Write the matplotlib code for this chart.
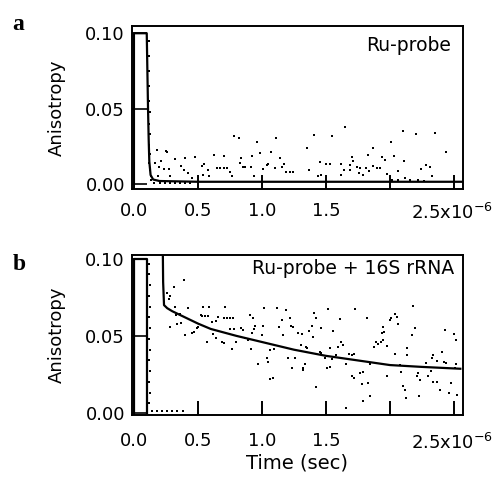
import matplotlib
matplotlib.use('Agg')
import matplotlib.pyplot as plt

plt.rcParams['font.family'] = ['DejaVu Sans']

# time in units of 1e-6 s
a_fit_t = [0.0, 0.0, 0.10, 0.105, 0.11, 0.115, 0.12, 0.13, 0.15, 0.2, 0.5, 1.0, 2.0, 2.57]
a_fit_v = [0.0, 0.10, 0.10, 0.075, 0.05, 0.03, 0.015, 0.006, 0.003, 0.002, 0.0015, 0.0015, 0.0015, 0.0015]

a_t = [0.12, 0.12, 0.12, 0.12, 0.12, 0.125, 0.12, 0.125, 0.12, 0.125, 0.12, 0.125, 0.13, 0.13,
       0.16, 0.2, 0.24, 0.28, 0.32, 0.36, 0.40, 0.44,
       0.177, 0.25, 0.26, 0.21, 0.164, 0.195, 0.237, 0.273, 0.32, 0.19, 0.28, 0.365, 0.40, 0.39,
       0.42, 0.477, 0.45, 0.55, 0.53, 0.58, 0.54, 0.585, 0.627, 0.646, 0.67, 0.70, 0.705, 0.73,
       0.75, 0.77, 0.78, 0.82, 0.84, 0.83, 0.855, 0.87, 0.925, 0.914, 0.94, 0.963, 0.984, 1.01,
       1.04, 1.05, 1.07, 1.11, 1.10, 1.14, 1.16, 1.17, 1.19, 1.22, 1.24,
       1.35, 1.37, 1.41, 1.45, 1.435, 1.465, 1.50, 1.53, 1.55, 1.62, 1.62, 1.64, 1.65, 1.70, 1.71,
       1.69, 1.69, 1.745, 1.77, 1.76, 1.79, 1.81, 1.825, 1.84, 1.865, 1.865, 1.90, 1.92, 1.94,
       1.96, 1.98, 2.01, 2.03, 2.065, 2.10, 2.11, 2.20, 2.24, 2.28, 2.31, 2.33, 2.35, 2.44,
       2.02, 2.06, 2.12, 2.16, 2.22, 2.27]
a_v = [0.095, 0.085, 0.075, 0.065, 0.055, 0.048, 0.04, 0.033, 0.026, 0.02, 0.014, 0.009, 0.005, 0.003,
       0.0005, 0.0005, 0.0005, 0.0005, 0.0005, 0.0005, 0.0005, 0.0005,
       0.0227, 0.022, 0.021, 0.0153, 0.0138, 0.0115, 0.010, 0.010, 0.0164, 0.005, 0.005, 0.012, 0.017, 0.0093,
       0.0071, 0.0178, 0.0042, 0.0136, 0.0122, 0.0093, 0.006, 0.0055, 0.0193, 0.0109, 0.0109, 0.0109, 0.0187, 0.0109,
       0.0082, 0.005, 0.0316, 0.0304, 0.0171, 0.0142, 0.0113, 0.0113, 0.0189, 0.0116, 0.005, 0.0276, 0.0209, 0.010,
       0.0127, 0.013, 0.021, 0.0304, 0.0104, 0.0171, 0.0116, 0.013, 0.0082, 0.0077, 0.0077,
       0.0238, 0.0093, 0.0327, 0.0149, 0.0053, 0.006, 0.0131, 0.0131, 0.032, 0.0131, 0.006, 0.0093, 0.0378, 0.0182, 0.0153,
       0.0127, 0.0093, 0.011, 0.0104, 0.0076, 0.006, 0.0109, 0.0193, 0.0087, 0.0238, 0.012, 0.0104, 0.0104, 0.0176,
       0.0162, 0.0065, 0.0278, 0.0187, 0.0087, 0.0349, 0.0153, 0.0333, 0.0098, 0.0127, 0.0116, 0.0053, 0.0338, 0.0211,
       0.003, 0.003, 0.004, 0.003, 0.003, 0.002]

b_box_t = [0.0, 0.0, 0.10, 0.10]
b_box_v = [0.0, 0.10, 0.10, 0.0]
b_fit_t = [0.225, 0.228, 0.235, 0.26, 0.3, 0.4, 0.5, 0.6, 0.8, 1.0, 1.25, 1.5, 1.75, 2.0, 2.25, 2.55]
b_fit_v = [0.11, 0.085, 0.070, 0.068, 0.066, 0.062, 0.058, 0.0545, 0.050, 0.046, 0.041, 0.037, 0.034, 0.031, 0.0298, 0.0286]

b_t = [0.12, 0.12, 0.125, 0.12, 0.125, 0.12, 0.125, 0.12, 0.125, 0.12, 0.125, 0.12, 0.125, 0.12,
       0.14, 0.18, 0.22, 0.26, 0.30, 0.34, 0.38,
       0.39, 0.31, 0.255, 0.28, 0.27, 0.32, 0.33, 0.36, 0.28, 0.34, 0.37, 0.42, 0.40, 0.45, 0.47,
       0.49, 0.50, 0.52, 0.53, 0.555, 0.575, 0.54, 0.59, 0.57, 0.61, 0.645, 0.66, 0.62, 0.64,
       0.685, 0.705, 0.715, 0.70, 0.725, 0.75, 0.775, 0.75, 0.78, 0.77, 0.80, 0.84, 0.855, 0.87,
       0.89, 0.905, 0.93, 0.915, 0.945, 0.94, 0.92, 0.97, 1.0, 1.01, 1.02, 1.04, 1.045, 1.06,
       1.09, 1.06, 1.095, 1.115, 1.13, 1.155, 1.165, 1.19, 1.22, 1.23, 1.245, 1.205, 1.26, 1.235,
       1.285, 1.305, 1.32,
       1.31, 1.335, 1.32, 1.345, 1.35, 1.37, 1.39, 1.40, 1.41, 1.425, 1.42, 1.45, 1.465, 1.465,
       1.49, 1.505, 1.52, 1.53, 1.55, 1.555, 1.535, 1.58, 1.595, 1.62, 1.63, 1.61, 1.656, 1.66,
       1.68, 1.70, 1.70, 1.72, 1.73, 1.72, 1.765, 1.79, 1.78, 1.79, 1.82, 1.83, 1.845, 1.875,
       1.845, 1.89, 1.91, 1.93, 1.945, 1.95, 1.94, 1.945, 1.98, 1.975, 2.0, 2.01, 2.04, 2.055,
       2.06, 2.04, 2.08, 2.09, 2.10, 2.12, 2.125, 2.13, 2.135, 2.18, 2.195, 2.17, 2.21, 2.22,
       2.235, 2.23, 2.28, 2.30, 2.32, 2.325, 2.34, 2.34, 2.365, 2.37, 2.365, 2.39, 2.41, 2.42,
       2.43, 2.44, 2.46, 2.48, 2.50, 2.515, 2.525, 2.515, 2.51]
b_v = [0.097, 0.09, 0.083, 0.076, 0.069, 0.062, 0.055, 0.048, 0.041, 0.034, 0.027, 0.02, 0.013, 0.006,
       0.001, 0.001, 0.001, 0.001, 0.001, 0.001, 0.001,
       0.0863, 0.082, 0.0777, 0.0762, 0.074, 0.069, 0.0636, 0.064, 0.056, 0.0576, 0.0582, 0.0683, 0.0506, 0.0517, 0.0524,
       0.055, 0.056, 0.0636, 0.063, 0.063, 0.063, 0.069, 0.069, 0.0459, 0.0593, 0.0597, 0.0625, 0.051, 0.0485,
       0.0463, 0.0452, 0.069, 0.0615, 0.0615, 0.0615, 0.0615, 0.0543, 0.0543, 0.0415, 0.046, 0.0553, 0.054, 0.0485,
       0.0474, 0.0636, 0.0615, 0.0415, 0.0567, 0.0545, 0.0517, 0.032, 0.0506, 0.0567, 0.0683, 0.0355, 0.0333, 0.022,
       0.0229, 0.0409, 0.0415, 0.0683, 0.056, 0.0604, 0.0506, 0.0669, 0.0615, 0.0567, 0.056, 0.0359, 0.0359, 0.0294,
       0.0517, 0.0441, 0.029,
       0.0511, 0.0316, 0.0279, 0.043, 0.0424, 0.0532, 0.0567, 0.0495, 0.0647, 0.0615, 0.0167, 0.0398, 0.0387, 0.055,
       0.0355, 0.029, 0.0675, 0.0424, 0.035, 0.0532, 0.030, 0.0376, 0.043, 0.0459, 0.0441, 0.061, 0.0316, 0.003,
       0.038, 0.0376, 0.0242, 0.0229, 0.0675, 0.038, 0.0257, 0.0264, 0.0186, 0.0073, 0.0619, 0.0193, 0.0106, 0.043,
       0.0316, 0.0459, 0.0446, 0.0459, 0.0474, 0.0524, 0.0517, 0.056, 0.0236, 0.0437, 0.0604, 0.0619, 0.064, 0.0625,
       0.0576, 0.038, 0.0311, 0.0268, 0.0171, 0.0149, 0.0095, 0.042, 0.0376, 0.0697, 0.0553, 0.0506, 0.0236, 0.0258,
       0.0214, 0.0106, 0.0322, 0.0236, 0.0273, 0.0355, 0.0376, 0.0203, 0.02, 0.02, 0.0337, 0.0149, 0.0398, 0.0333,
       0.0539, 0.0326, 0.0128, 0.0193, 0.0511, 0.0474, 0.0117, 0.0316, 0.029]

x_ticks = [0.0, 0.5, 1.0, 1.5, 2.0, 2.5]
x_labels = ['0.0', '0.5', '1.0', '1.5', '', '']
y_ticks = [0.0, 0.05, 0.10]
y_labels = ['0.00', '0.05', '0.10']

fig = plt.figure(figsize=(4.94, 4.79), dpi=100)
ax_a = fig.add_axes([0.267, 0.6054, 0.670, 0.340])
ax_b = fig.add_axes([0.267, 0.1336, 0.670, 0.334])

for ax, xpad in ((ax_a, 9), (ax_b, 12)):
    for s in ax.spines.values():
        s.set_linewidth(1.4)
    ax.set_xlim(-0.016, 2.57)
    ax.set_xticks(x_ticks)
    ax.set_xticklabels(x_labels)
    ax.set_yticks(y_ticks)
    ax.set_yticklabels(y_labels)
    ax.tick_params(axis='x', direction='in', length=10, width=1.4, labelsize=13, pad=xpad)
    ax.tick_params(axis='y', direction='in', length=11, width=1.2, labelsize=13, pad=5)
    ax.set_ylabel('Anisotropy', fontsize=13, labelpad=14)
    ax.annotate('2.5x10$^{-6}$', xy=(1.0, 0.0), xycoords='axes fraction',
                xytext=(21.5, -xpad - 1), textcoords='offset points',
                ha='right', va='top', fontsize=13)

ax_a.set_ylim(-0.0033, 0.1047)
ax_a.plot(a_fit_t, a_fit_v, color='black', lw=1.6)
ax_a.plot(a_t, a_v, 's', color='black', ms=2.0, mew=0)
ax_a.text(0.965, 0.883, 'Ru-probe', transform=ax_a.transAxes, ha='right', va='center', fontsize=13.5)

ax_b.set_ylim(-0.0015, 0.1026)
ax_b.plot(b_box_t, b_box_v, color='black', lw=1.6)
ax_b.plot(b_fit_t, b_fit_v, color='black', lw=1.6)
ax_b.plot(b_t, b_v, 's', color='black', ms=2.0, mew=0)
ax_b.text(0.975, 0.915, 'Ru-probe + 16S rRNA', transform=ax_b.transAxes, ha='right', va='center', fontsize=13.5)
ax_b.set_xlabel('Time (sec)', fontsize=14, labelpad=3)

fig.text(0.025, 0.948, 'a', fontsize=17, fontweight='bold', family='Liberation Serif', va='center')
fig.text(0.025, 0.447, 'b', fontsize=17, fontweight='bold', family='Liberation Serif', va='center')

fig.savefig('out.png', dpi=100)
